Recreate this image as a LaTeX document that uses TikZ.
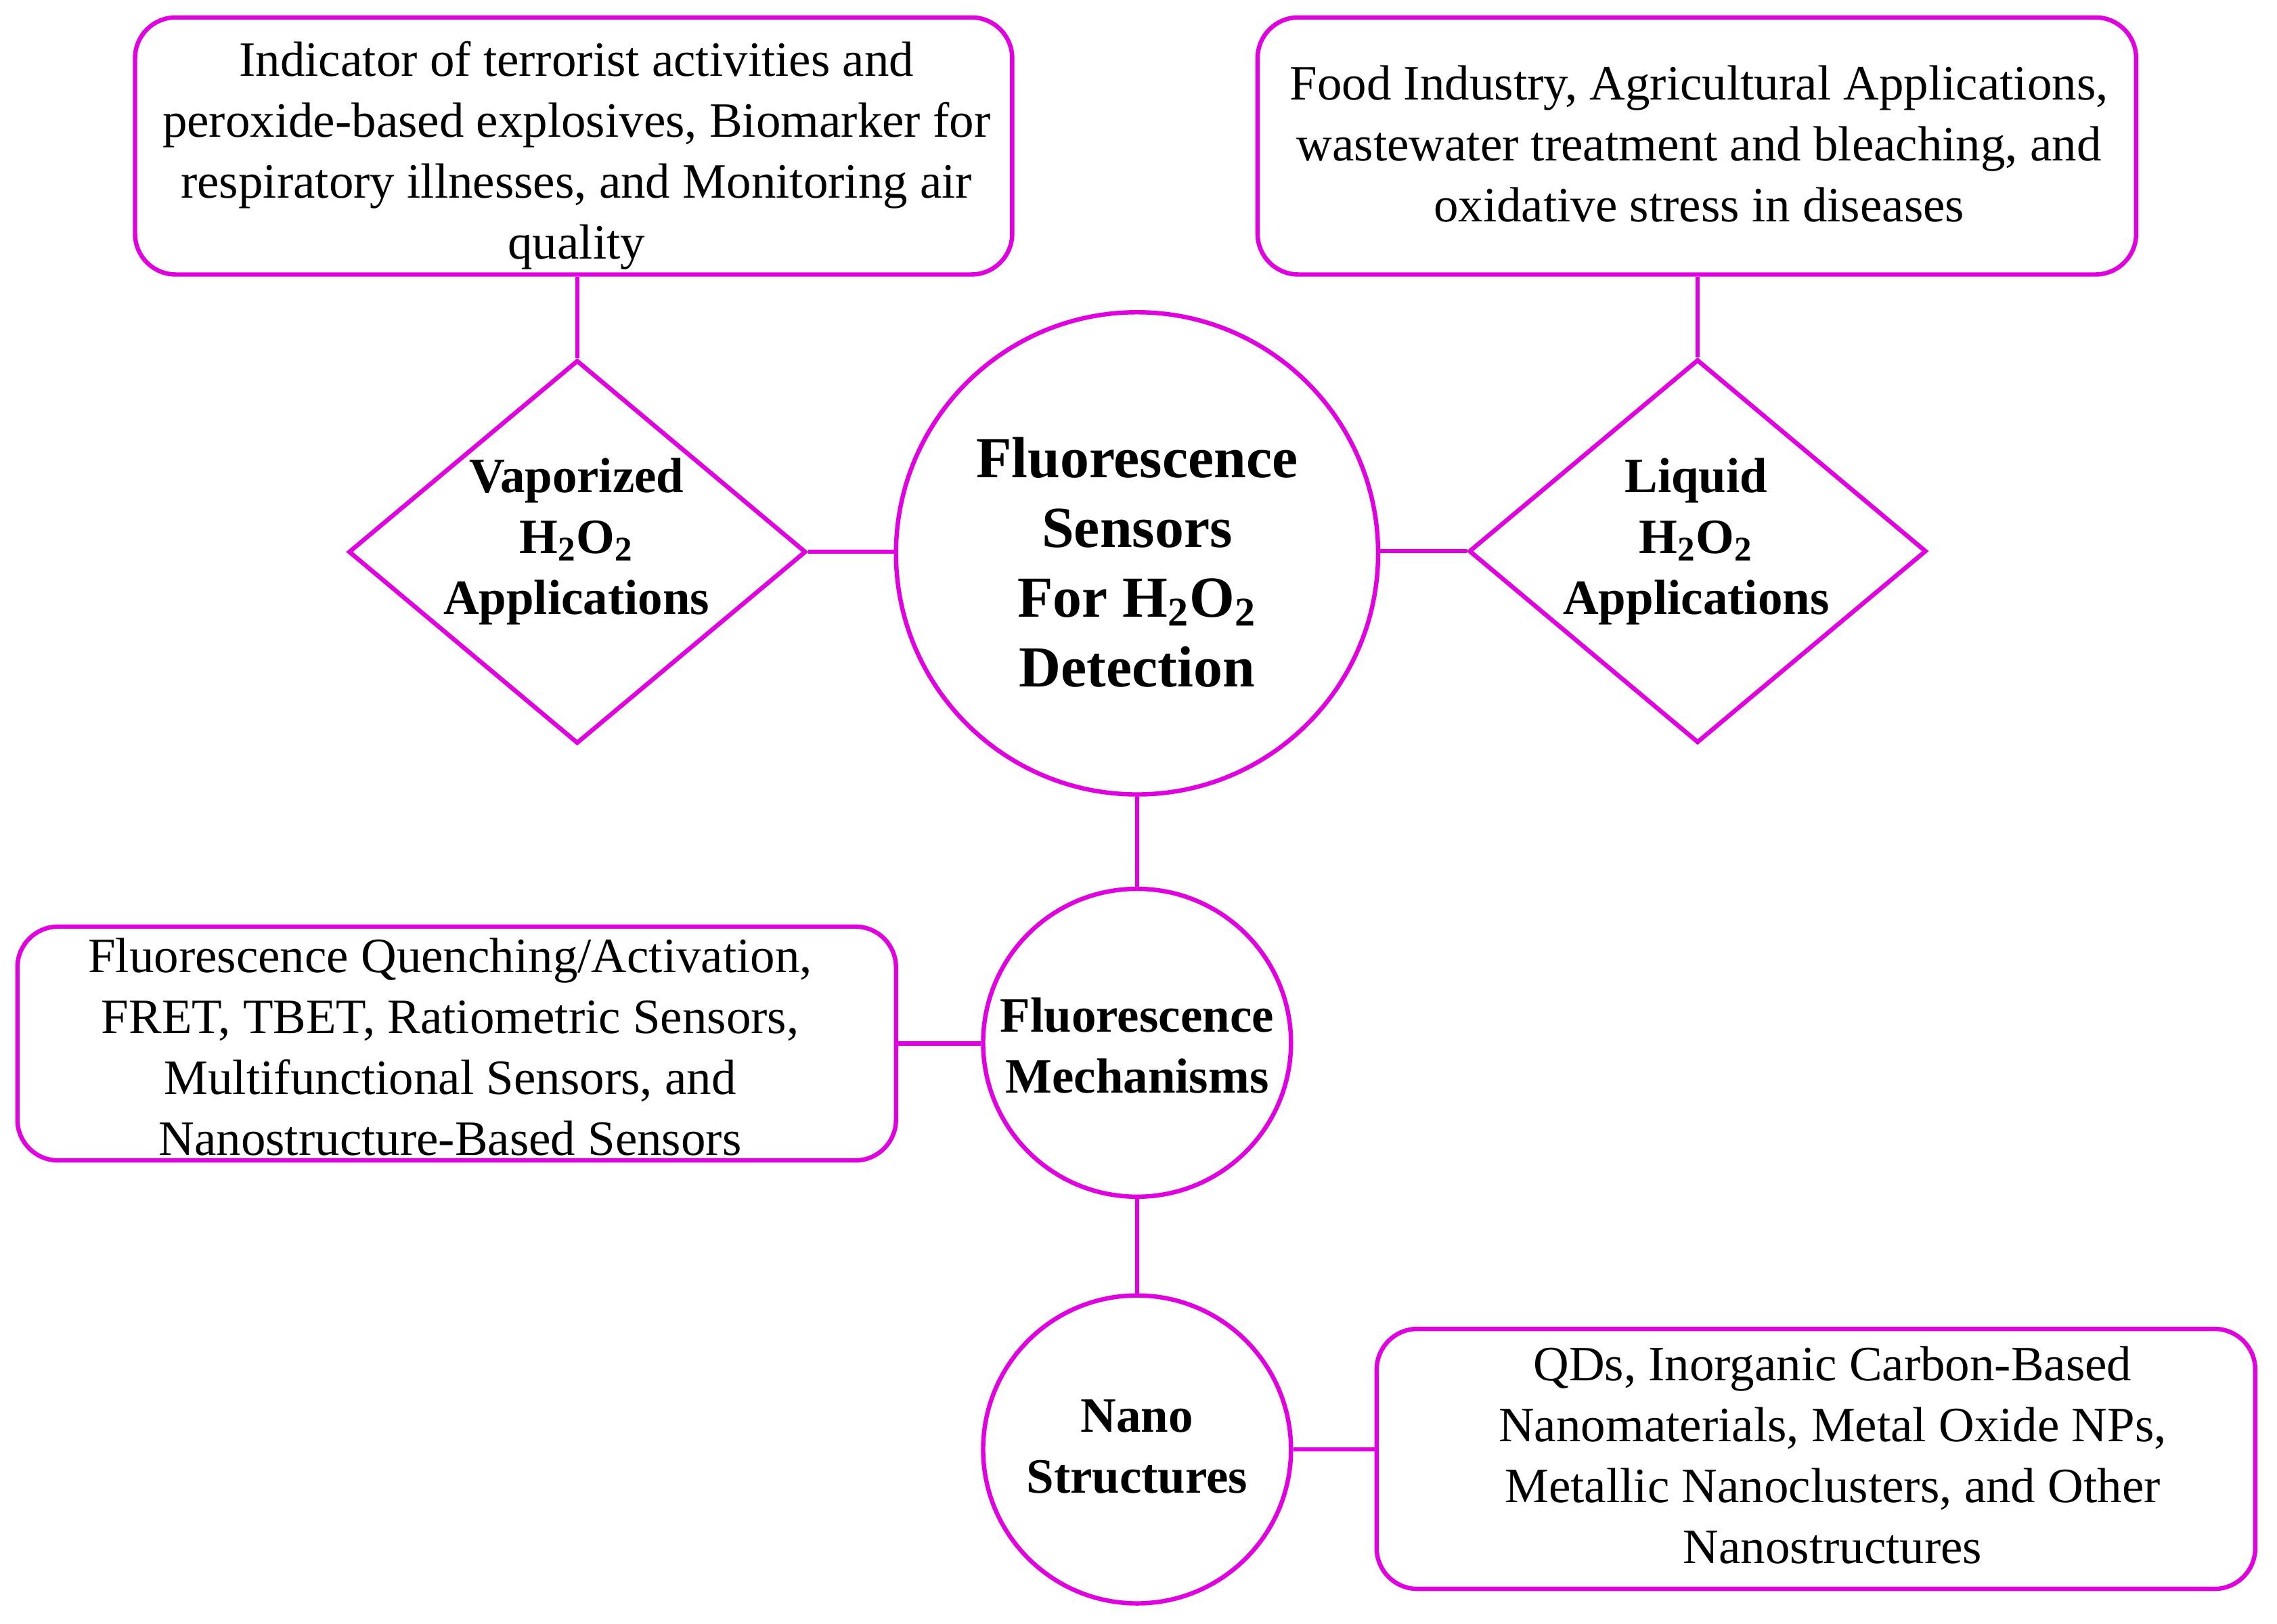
\documentclass[tikz,border=0pt]{standalone}
\usepackage{fontspec}
\setmainfont{Liberation Serif}
\usetikzlibrary{shapes.geometric}
\definecolor{mag}{HTML}{E000E0}
\begin{document}
\begin{tikzpicture}[x=0.5pt,y=-0.5pt,
  ln/.style={draw=mag,line width=1.5pt},
  box/.style={ln,rectangle,rounded corners=14pt,inner sep=0pt},
  txt/.style={align=center,font=\fontsize{17}{21}\selectfont},
  btxt/.style={align=center,font=\fontsize{17}{21}\selectfont\bfseries},
  ctxt/.style={align=center,font=\fontsize{20}{24}\selectfont\bfseries},
  dia/.style={ln,diamond,inner sep=0pt,minimum width=157.5pt,minimum height=132pt,aspect=1.19},
  circ/.style={ln,circle,inner sep=0pt}]
\useasboundingbox (0,0) rectangle (1568,1118);
\node[box,minimum width=302pt,minimum height=88.5pt] (tl) at (395,100.5) {};
\node[txt] (tlt) at (397,107) {Indicator of terrorist activities and\\peroxide-based explosives, Biomarker for\\respiratory illnesses, and Monitoring air\\quality};
\node[box,minimum width=302.5pt,minimum height=88.5pt] (tr) at (1168.5,100.5) {};
\node[txt] (trt) at (1170,99) {Food Industry, Agricultural Applications,\\wastewater treatment and bleaching, and\\oxidative stress in diseases};
\node[dia] (vd) at (397.5,380) {};
\node[btxt] (vdt) at (397,373) {Vaporized\\H\textsubscript{2}O\textsubscript{2}\\Applications};
\node[dia] (ld) at (1169,379.5) {};
\node[btxt] (ldt) at (1168,373) {Liquid\\H\textsubscript{2}O\textsubscript{2}\\Applications};
\node[circ,minimum size=166pt] (c) at (783,381) {};
\node[ctxt] (ct) at (783,387) {Fluorescence\\Sensors\\For H\textsubscript{2}O\textsubscript{2}\\Detection};
\node[circ,minimum size=106pt] (m) at (783,718) {};
\node[btxt] (mt) at (783,720) {Fluorescence\\Mechanisms};
\node[circ,minimum size=106pt] (n) at (783,998) {};
\node[btxt] (nt) at (783,996) {Nano\\Structures};
\node[box,minimum width=302.5pt,minimum height=80.5pt] (ml) at (314.5,718.5) {};
\node[txt] (mlt) at (310,721) {Fluorescence Quenching/Activation,\\FRET, TBET, Ratiometric Sensors,\\Multifunctional Sensors, and\\Nanostructure-Based Sensors};
\node[box,minimum width=302.5pt,minimum height=89.5pt] (nr) at (1250.5,1004.5) {};
\node[txt] (nrt) at (1262,1002) {QDs, Inorganic Carbon-Based\\Nanomaterials, Metal Oxide NPs,\\Metallic Nanoclusters, and Other\\Nanostructures};
\draw[ln] (tl.south -| vd.north) -- (vd.north);
\draw[ln] (tr.south -| ld.north) -- (ld.north);
\draw[ln] (vd.east) -- (vd.east -| c.west);
\draw[ln] (ld.west -| c.east) -- (ld.west);
\draw[ln] (c.south) -- (m.north);
\draw[ln] (m.south) -- (n.north);
\draw[ln] (ml.east) -- (ml.east -| m.west);
\draw[ln] (n.east) -- (n.east -| nr.west);
\end{tikzpicture}
\end{document}
